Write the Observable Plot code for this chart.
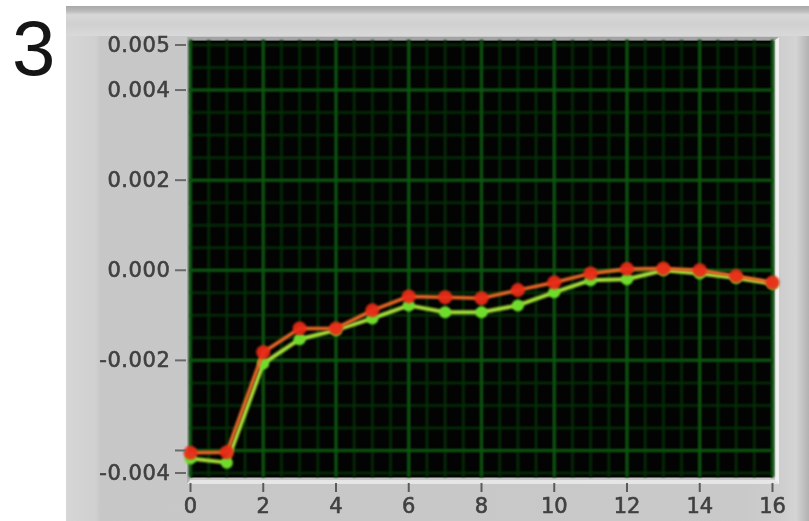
<!DOCTYPE html>
<html>
<head>
<meta charset="utf-8">
<script src="https://cdn.jsdelivr.net/npm/d3@7"></script>
<script src="https://cdn.jsdelivr.net/npm/@observablehq/plot@0.6"></script>
<style>
  html, body { margin: 0; padding: 0; background: #ffffff; }
  #wrap { position: relative; width: 809px; height: 521px; overflow: hidden; background: #ffffff; }
  #panel { position: absolute; left: 66px; top: 6px; width: 743px; height: 515px;
    background: linear-gradient(to right, #d6d6d6 0px, #d0d0d0 30px, #c7c7c7 34px, #c9c9c9 680px, #cdcdcd 712px, #d4d4d4 730px, #b2b2b2 743px); }
  #topband { position: absolute; left: 66px; top: 6px; width: 743px; height: 30px;
    background: linear-gradient(to bottom, #a9a9a9 0px, #bababa 5px, #d8d8d8 9px, #d0d0d0 18px, #d9d9d9 30px); }
  #bevel { position: absolute; left: 187px; top: 37px; width: 585px; height: 440px;
    border-top: 3px solid #a4a4a4; border-left: 3px solid #b2b2b2;
    border-right: 4px solid #f0f0f0; border-bottom: 4px solid #e6e6e6; }
  #num { position: absolute; left: 12px; top: 9px; font-family: "Liberation Sans", Arial, sans-serif;
    font-size: 78px; line-height: 78px; color: #151515; }
  #chart { position: absolute; left: 0; top: 0; }
</style>
</head>
<body>
<div id="wrap">
  <div id="panel"></div>
  <div id="topband"></div>
  <div id="bevel"></div>
  <div id="num">3</div>
  <div id="chart"></div>
</div>
<script>
// ---- data ----
const xValues = [0, 1, 2, 3, 4, 5, 6, 7, 8, 9, 10, 11, 12, 13, 14, 15, 16];
const redSeries = [-0.00405, -0.00404, -0.00182, -0.00129, -0.00129, -0.00089, -0.00058, -0.00060, -0.00062, -0.00044, -0.00027, -0.00007, 0.00003, 0.00004, 0.00000, -0.00013, -0.00027];
const greenSeries = [-0.00418, -0.00427, -0.00207, -0.00153, -0.00133, -0.00107, -0.00078, -0.00093, -0.00093, -0.00078, -0.00049, -0.00022, -0.00020, 0.00000, -0.00007, -0.00017, -0.00030];
const xTicks = [0, 2, 4, 6, 8, 10, 12, 14, 16];
const xTickLabels = ["0", "2", "4", "6", "8", "10", "12", "14", "16"];
const yTicks = [-0.0045, -0.002, 0, 0.002, 0.004, 0.005];
const yTickLabels = ["-0.004", "-0.002", "0.000", "0.002", "0.004", "0.005"];
const yExtraTicks = [-0.004];
const xDomain = [0, 16];
const yDomain = [-0.0046, 0.0051];

const redData = xValues.map((x, i) => ({x, y: redSeries[i]}));
const greenData = xValues.map((x, i) => ({x, y: greenSeries[i]}));
const xMinor = d3.range(xDomain[0], xDomain[1] + 1e-9, 0.5);
const yMinor = d3.range(-0.0045, yDomain[1], 0.0005).map(v => Math.round(v * 1e5) / 1e5);
const yMajor = [-0.004, -0.002, 0, 0.002, 0.004];

const chart = Plot.plot({
  width: 809,
  height: 521,
  marginLeft: 190,
  marginTop: 40,
  marginRight: 37,
  marginBottom: 44,
  x: {domain: xDomain},
  y: {domain: yDomain},
  style: {background: "transparent", fontFamily: "'DejaVu Sans', sans-serif", fontSize: "21px", color: "#404040"},
  marks: [
    Plot.frame({fill: "#020302"}),
    Plot.ruleX(xMinor, {stroke: "#062f08", strokeWidth: 2.5}),
    Plot.ruleY(yMinor, {stroke: "#062f08", strokeWidth: 2.5}),
    Plot.ruleX(xTicks, {stroke: "#0e5912", strokeWidth: 2.5}),
    Plot.ruleY(yMajor, {stroke: "#0e5912", strokeWidth: 2.5}),
    Plot.line(greenData, {x: "x", y: "y", stroke: "#a6e03a", strokeWidth: 4}),
    Plot.dot(greenData, {x: "x", y: "y", r: 6, fill: "#6fdc2c", stroke: "none"}),
    Plot.line(redData, {x: "x", y: "y", stroke: "#ee6a26", strokeWidth: 3.5}),
    Plot.dot(redData, {x: "x", y: "y", r: 7, fill: "#ec2a18", stroke: "none", fillOpacity: 0.92}),
    Plot.axisX(xTicks, {tickSize: 9, dy: 6, tickPadding: 6, stroke: "#5a5a5a", strokeWidth: 2,
      tickFormat: d => xTickLabels[xTicks.indexOf(d)], fontSize: 21, label: null}),
    Plot.axisY(yTicks, {tickSize: 11, dx: -4, tickPadding: 5, stroke: "#6a6a6a", strokeWidth: 2,
      tickFormat: d => yTickLabels[yTicks.indexOf(d)], fontSize: 21, label: null}),
    Plot.axisY(yExtraTicks, {tickSize: 11, dx: -4, stroke: "#6a6a6a", strokeWidth: 2, tickFormat: () => "", label: null})
  ]
});
document.getElementById("chart").appendChild(chart);
const svg = d3.select(chart);
svg.selectAll('g[aria-label="x-axis tick label"] text, g[aria-label="y-axis tick label"] text')
  .style("stroke", "#404040").style("stroke-width", "0.6px").style("paint-order", "stroke")
  .style("filter", "blur(0.5px)");
svg.selectAll('g[aria-label="y-axis tick label"] text').style("letter-spacing", "0.6px");
svg.selectAll('g[aria-label="rule"]').style("filter", "blur(1px)");
svg.selectAll('g[aria-label="line"], g[aria-label="dot"]').style("filter", "blur(1.2px)");
</script>
</body>
</html>
